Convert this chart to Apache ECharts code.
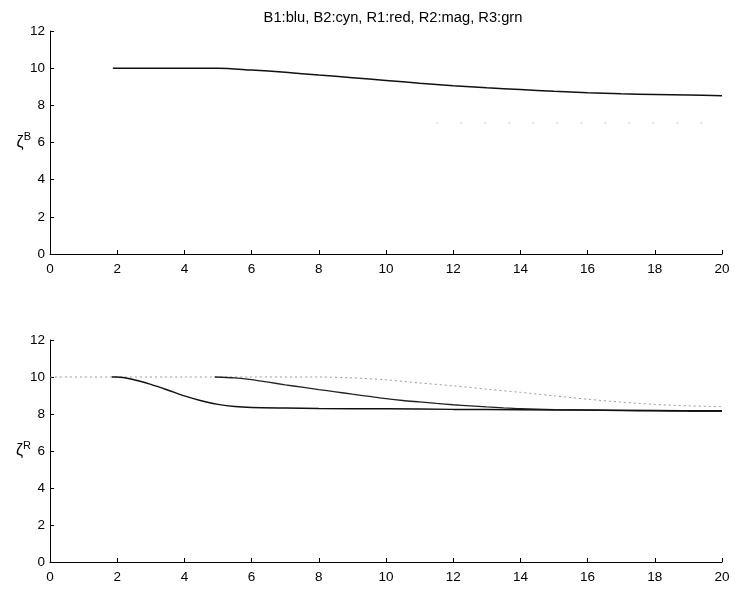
<!DOCTYPE html>
<html>
<head>
<meta charset="utf-8">
<script src="https://cdn.jsdelivr.net/npm/echarts@6/dist/echarts.min.js"></script>
<style>
html,body{margin:0;padding:0;background:#fff;}
#c{width:735px;height:590px;}
</style>
</head>
<body>
<div id="c"></div>
<script>
const titleText = 'B1:blu, B2:cyn, R1:red, R2:mag, R3:grn';
const xTicks = [0, 2, 4, 6, 8, 10, 12, 14, 16, 18, 20];
const yTicks = [0, 2, 4, 6, 8, 10, 12];

// Top panel (zeta^B)
const topSolid = [[1.87,10],[3,10],[4,10],[5,10],[6,9.9],[7,9.78],[8,9.63],[9,9.49],[10,9.34],[11,9.19],[12,9.06],[13,8.95],[14,8.85],[15,8.76],[16,8.68],[17,8.62],[18,8.58],[19,8.55],[20,8.52]];
const topFaint = [[11.5,7.05],[14,7.05],[17,7.05],[20,7.05]];

// Bottom panel (zeta^R)
const botDotted = [[0,10],[2,10],[4,10],[6,10],[8,10],[9,9.95],[10,9.85],[11,9.68],[12,9.52],[13,9.34],[14,9.17],[15,8.98],[16,8.8],[17,8.64],[18,8.52],[19,8.44],[20,8.4]];
const botR1 = [[1.84,10],[2,10],[2.5,9.85],[3,9.6],[3.5,9.3],[4,8.98],[4.5,8.72],[5,8.52],[5.5,8.4],[6,8.35],[7,8.32],[8,8.3],[10,8.28],[12,8.25],[14,8.23],[16,8.21],[18,8.19],[20,8.17]];
const botR2 = [[4.9,10],[5.5,9.95],[6,9.86],[6.5,9.72],[7,9.58],[7.5,9.45],[8,9.32],[8.5,9.2],[9,9.07],[9.5,8.95],[10,8.83],[10.5,8.73],[11,8.65],[11.5,8.57],[12,8.5],[12.5,8.44],[13,8.38],[13.5,8.33],[14,8.29],[15,8.24],[16,8.21],[17,8.18],[18,8.17],[19,8.15],[20,8.14]];

const FONT = 'Liberation Sans, Arial, sans-serif';

function xAxisDef(gi){
  return {
    type:'value', gridIndex:gi, min:xTicks[0], max:xTicks[xTicks.length-1], interval:2,
    axisLine:{show:true, onZero:false, lineStyle:{color:'#000', width:1}},
    axisTick:{show:true, inside:true, length:4, lineStyle:{color:'#000'}},
    axisLabel:{color:'#000', fontSize:13.5, fontFamily:FONT, margin:8},
    splitLine:{show:false}
  };
}
function yAxisDef(gi, sup){
  return {
    type:'value', gridIndex:gi, min:yTicks[0], max:yTicks[yTicks.length-1], interval:2,
    axisLine:{show:true, lineStyle:{color:'#000', width:1}},
    axisTick:{show:true, inside:true, length:4, lineStyle:{color:'#000'}},
    axisLabel:{color:'#000', fontSize:13.5, fontFamily:FONT, margin:5},
    splitLine:{show:false},
    name:'{z|ζ}{s|' + sup + '}',
    nameLocation:'middle', nameRotate:0, nameGap:19, nameMoveOverlap:false,
    nameTextStyle:{
      rich:{
        z:{fontSize:16, fontFamily:FONT, color:'#000'},
        s:{fontSize:11, fontFamily:FONT, color:'#000', padding:[0,0,11,0]}
      }
    }
  };
}
function line(xi, data, style){
  return {type:'line', xAxisIndex:xi, yAxisIndex:xi, data:data, showSymbol:false, symbol:'none', smooth:0.3, lineStyle:style, silent:true, animation:false};
}

const chart = echarts.init(document.getElementById('c'), null, {renderer:'canvas'});
chart.setOption({
  backgroundColor:'#fff',
  animation:false,
  title:{text:titleText, left:388, top:5, textAlign:'center',
    textStyle:{fontSize:14.7, fontWeight:'normal', fontFamily:FONT, color:'#000'}},
  grid:[
    {left:50, right:13, top:31, height:223},
    {left:50, right:13, top:340, height:222}
  ],
  xAxis:[xAxisDef(0), xAxisDef(1)],
  yAxis:[yAxisDef(0,'B'), yAxisDef(1,'R')],
  series:[
    line(0, topFaint, {color:'#c8c8c8', width:1, type:[2,22]}),
    line(0, topSolid, {color:'#111', width:1.5}),
    line(1, botDotted, {color:'#9a9a9a', width:1, type:[2,3]}),
    line(1, botR2, {color:'#222', width:1.3}),
    line(1, botR1, {color:'#111', width:1.5})
  ]
});
</script>
</body>
</html>
